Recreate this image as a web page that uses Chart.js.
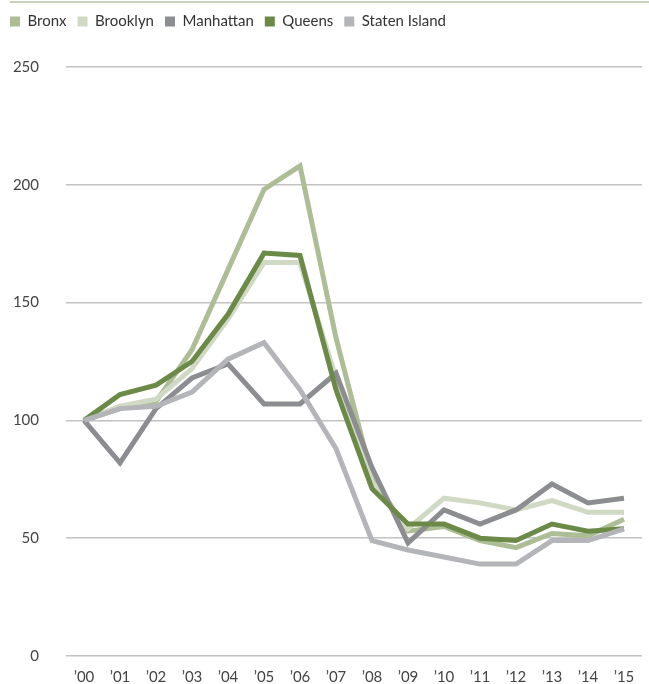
<!DOCTYPE html>
<html>
<head>
<meta charset="utf-8">
<script src="https://cdn.jsdelivr.net/npm/chart.js@4/dist/chart.umd.min.js"></script>
<style>
    html, body { margin: 0; padding: 0; background: #fff; overflow: hidden; }
    #wrap { position: relative; width: 649px; height: 684px; overflow: hidden; }
    #topRule { position: absolute; left: 10px; right: 0; top: 1px; height: 2px; background: #c9d2ba; z-index: 1; }
    #boroughChart { position: absolute; left: -1px; top: -1px; }
</style>
</head>
<body>
<div id="wrap">
    <div id="topRule"></div>
    <canvas id="boroughChart" width="650" height="699"></canvas>
</div>
<script>
// Index values by year (2000 = 100)
const years = ['’00', '’01', '’02', '’03', '’04', '’05', '’06', '’07', '’08', '’09', '’10', '’11', '’12', '’13', '’14', '’15'];
const bronx = [100, 105, 108, 130, 164, 198, 208, 135, 76, 53, 55, 49, 46, 52, 51, 58];
const brooklyn = [100, 106, 109, 122, 143, 167, 167, 118, 74, 54, 67, 65, 62, 66, 61, 61];
const manhattan = [100, 82, 105, 118, 124, 107, 107, 120, 80, 48, 62, 56, 62, 73, 65, 67];
const queens = [100, 111, 115, 125, 145, 171, 170, 113, 71, 56, 56, 50, 49, 56, 53, 54];
const statenIsland = [100, 105, 106, 112, 126, 133, 113, 88, 49, 45, 42, 39, 39, 49, 49, 54];
const yTicks = [0, 50, 100, 150, 200, 250];

const FONT = 'Lato, "Open Sans", sans-serif';

// z controls stacking: lower number is drawn on top
function series(label, data, color, z) {
    return {
        label: label,
        data: data,
        borderColor: color,
        backgroundColor: color,
        borderWidth: 5,
        pointRadius: 0,
        tension: 0,
        borderJoinStyle: 'miter',
        order: z
    };
}

const ctx = document.getElementById('boroughChart').getContext('2d');

// push the plot down below the legend row
const legendGap = {
    id: 'legendGap',
    beforeInit(chart) {
        const fit = chart.legend.fit;
        chart.legend.fit = function () {
            fit.bind(chart.legend)();
            this.height += 28;
        };
    }
};

new Chart(ctx, {
    type: 'line',
    data: {
        labels: years,
        datasets: [
            series('Bronx', bronx, '#adbd96', 4),
            series('Brooklyn', brooklyn, '#d0d9c3', 3),
            series('Manhattan', manhattan, '#8c8d91', 2),
            series('Queens', queens, '#6b8a47', 1),
            series('Staten Island', statenIsland, '#b4b5b9', 0)
        ]
    },
    options: {
        responsive: false,
        animation: false,
        layout: { padding: { left: 0, right: 7, top: 4, bottom: 0 } },
        plugins: {
            tooltip: { enabled: false },
            legend: {
                align: 'start',
                labels: {
                    boxWidth: 10,
                    boxHeight: 10,
                    padding: 11,
                    color: '#333',
                    font: { family: FONT, size: 15 },
                    sort: (a, b) => a.datasetIndex - b.datasetIndex,
                    generateLabels(chart) {
                        const items = Chart.defaults.plugins.legend.labels.generateLabels(chart);
                        items.forEach(it => {
                            it.lineWidth = 0;
                            it.fillStyle = it.strokeStyle;
                        });
                        return items;
                    }
                }
            }
        },
        scales: {
            x: {
                offset: true,
                grid: { display: false, drawTicks: false },
                border: { display: false },
                ticks: {
                    color: '#444',
                    padding: 12,
                    maxRotation: 0,
                    autoSkip: false,
                    font: { family: FONT, size: 15 }
                }
            },
            y: {
                min: 0,
                max: 250,
                afterBuildTicks(scale) {
                    scale.ticks = yTicks.map(v => ({ value: v }));
                },
                afterFit(scale) {
                    scale.width = 67;
                },
                grid: { color: '#c2c2c2', lineWidth: 1.5, drawTicks: false },
                border: { display: false },
                ticks: {
                    color: '#444',
                    padding: 27,
                    font: { family: FONT, size: 15 }
                }
            }
        }
    },
    plugins: [legendGap]
});
</script>
</body>
</html>
